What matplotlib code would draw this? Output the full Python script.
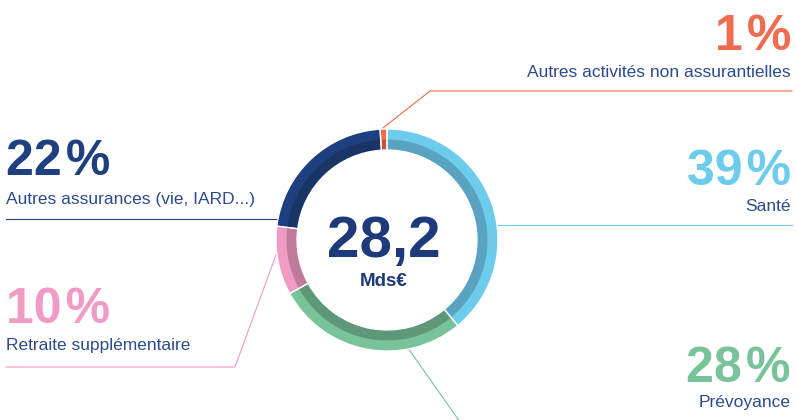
import matplotlib.pyplot as plt

plt.rcParams['font.family'] = ['Liberation Sans', 'DejaVu Sans']

# data
labels = ['Santé', 'Prévoyance', 'Retraite supplémentaire',
          'Autres assurances (vie, IARD...)', 'Autres activités non assurantielles']
shares = [39, 28, 10, 22, 1]
outer_colors = ['#6dcbec', '#78c39a', '#f09ac4', '#1f4080', '#ef6c4e']
inner_colors = ['#5aa3c0', '#5e9878', '#c07a9c', '#183566', '#c4533e']
total = '28,2'
unit = 'Mds€'

text_blue = '#2b4b8e'

fig = plt.figure(figsize=(7.96, 4.2), dpi=100)
ax = fig.add_axes([0, 0, 1, 1])
ax.set_xlim(0, 796)
ax.set_ylim(420, 0)
ax.axis('off')

# donut in its own axes
W, H = 796, 420
cx, cy, r = 387, 240, 111
pax = fig.add_axes([(cx - r) / W, (H - cy - r) / H, 2 * r / W, 2 * r / H])
pax.patch.set_alpha(0)
band = 10.5 / r
pax.pie(shares, colors=outer_colors, startangle=90, counterclock=False, radius=1,
        wedgeprops=dict(width=2 * band, linewidth=0))
pax.pie(shares, colors=inner_colors, startangle=90, counterclock=False, radius=1 - band,
        wedgeprops=dict(width=band, linewidth=0))
# white separators between segments
pax.pie(shares, startangle=90, counterclock=False, radius=1,
        wedgeprops=dict(width=2 * band, fill=False, edgecolor='white', linewidth=0.9))
pax.set_xlim(-1, 1)
pax.set_ylim(-1, 1)
pax.axis('off')

pax.text(-0.03, -0.15, total, ha='center', va='baseline', fontsize=42,
         fontweight='bold', color='#1e3a7a')
pax.text(-0.03, -0.41, unit, ha='center', va='baseline', fontsize=13.5,
         fontweight='bold', color='#1e3a7a')

# leader lines
lw = 0.8
ax.plot([383, 430, 792], [128, 91, 91], color=outer_colors[4], lw=lw)
ax.plot([497, 792], [225, 225], color=outer_colors[0], lw=lw)
ax.plot([6, 277], [219, 219], color=outer_colors[3], lw=lw)
ax.plot([6, 235, 276], [367, 367, 255], color=outer_colors[2], lw=lw)
ax.plot([408, 460], [348, 422], color=outer_colors[1], lw=lw)

# labels: (x, pct baseline, label baseline, align)
pos = {
    0: (791, 185, 211, 'right'),
    1: (791, 382, 407, 'right'),
    2: (6, 323, 350, 'left'),
    3: (6, 175, 204, 'left'),
    4: (791, 50, 77, 'right'),
}
for i, (x, yp, yl, ha) in pos.items():
    ax.text(x, yp, f'{shares[i]}\u200a%', ha=ha, va='baseline', fontsize=36,
            fontweight='bold', color=outer_colors[i])
    ax.text(x, yl, labels[i], ha=ha, va='baseline', fontsize=12.5,
            color=text_blue)

fig.savefig('out.png', dpi=100)
